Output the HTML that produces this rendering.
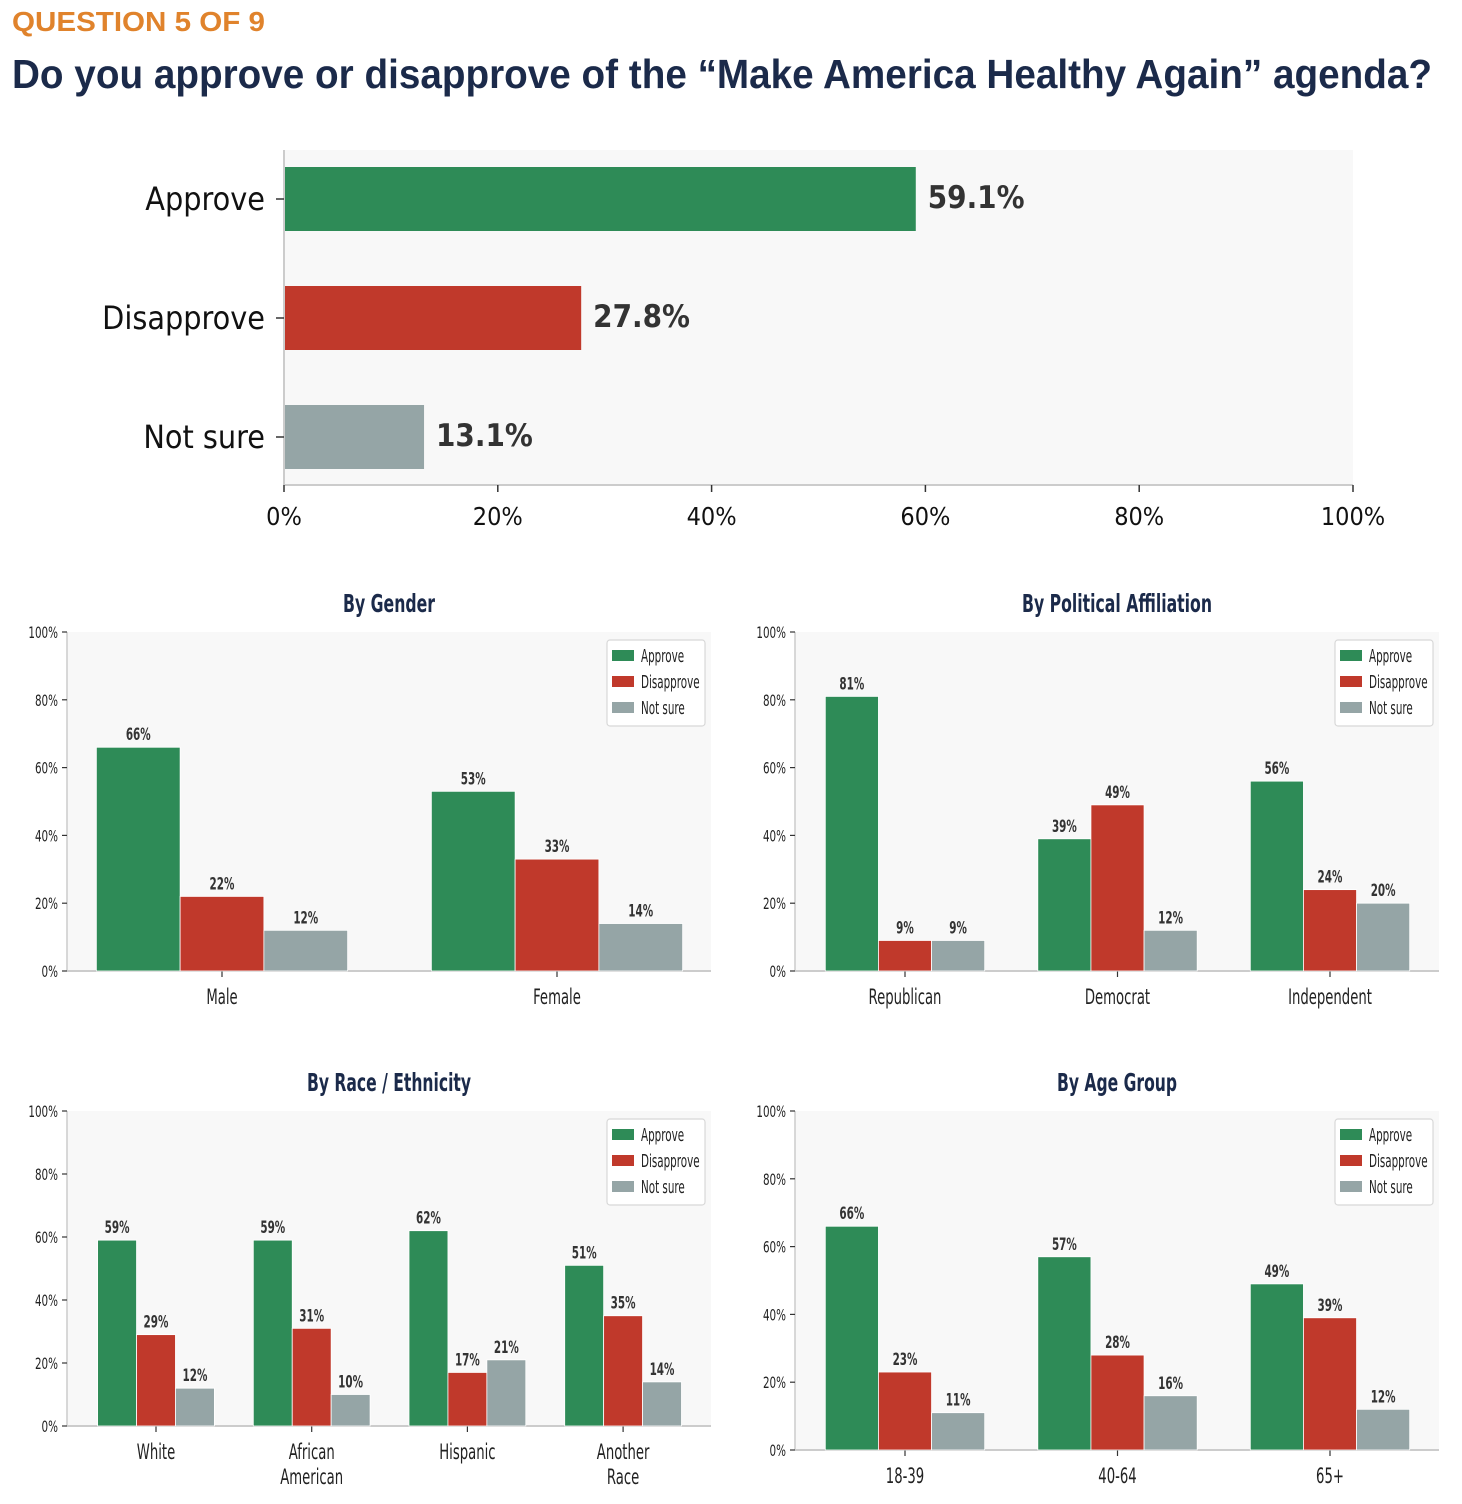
<!DOCTYPE html>
<html><head><meta charset="utf-8">
<style>
html,body{margin:0;padding:0;background:#fff;}
svg{display:block;}
.t{font-family:"DejaVu Sans Condensed","DejaVu Sans","Liberation Sans",sans-serif;}
</style></head>
<body>
<svg id="root" width="1462" height="1504" viewBox="0 0 1462 1504" xmlns="http://www.w3.org/2000/svg">
<text x="12" y="31" font-family="Liberation Sans, sans-serif" font-weight="bold" font-size="28" fill="#e0832c" textLength="253" lengthAdjust="spacingAndGlyphs">QUESTION 5 OF 9</text>
<text x="12" y="88" font-family="Liberation Sans, sans-serif" font-weight="bold" font-size="41" fill="#1b2a4a" textLength="1420" lengthAdjust="spacingAndGlyphs">Do you approve or disapprove of the “Make America Healthy Again” agenda?</text>
<g id="g"></g>
</svg>
<script>
const overallCats = ["Approve","Disapprove","Not sure"];
const overallVals = [59.1, 27.8, 13.1];
const xTicks = [0,20,40,60,80,100];
const seriesNames = ["Approve","Disapprove","Not sure"];
const genderCats = [["Male"],["Female"]];
const genderApprove = [66, 53];
const genderDisapprove = [22, 33];
const genderNotSure = [12, 14];
const partyCats = [["Republican"],["Democrat"],["Independent"]];
const partyApprove = [81, 39, 56];
const partyDisapprove = [9, 49, 24];
const partyNotSure = [9, 12, 20];
const raceCats = [["White"],["African","American"],["Hispanic"],["Another","Race"]];
const raceApprove = [59, 59, 62, 51];
const raceDisapprove = [29, 31, 17, 35];
const raceNotSure = [12, 10, 21, 14];
const ageCats = [["18-39"],["40-64"],["65+"]];
const ageApprove = [66, 57, 49];
const ageDisapprove = [23, 28, 39];
const ageNotSure = [11, 16, 12];
const yTicks = [0,20,40,60,80,100];

const COLORS = ["#2e8b57","#c0392b","#95a5a6"];
const NS = "http://www.w3.org/2000/svg";
const G = document.getElementById("g");
function mk(tag, attrs, parent, txt){
  const e = document.createElementNS(NS, tag);
  for (const k in attrs) e.setAttribute(k, attrs[k]);
  if (txt !== undefined) e.textContent = txt;
  (parent || G).appendChild(e);
  return e;
}
function sx(x, s){ return `translate(${x},0) scale(${s},1) translate(${-x},0)`; }

(function(){
  const x0 = 284, x1 = 1353, yTop = 150, yBot = 485;
  const xs = v => x0 + (x1 - x0) * v / 100;
  const rowY = i => 199 + i * 119;
  const bg = mk("rect", {x:x0, y:yTop, width:x1-x0, height:yBot-yTop, fill:"#f8f8f8"});
  
  
  mk("line", {x1:x0, y1:yTop, x2:x0, y2:yBot, stroke:"#cccccc", "stroke-width":2});
  mk("line", {x1:x0, y1:yBot, x2:x1, y2:yBot, stroke:"#cccccc", "stroke-width":2});
  xTicks.forEach(t => {
    mk("line", {x1:xs(t), y1:yBot, x2:xs(t), y2:yBot+7, stroke:"#333", "stroke-width":1.5});
    const l = mk("text", {x:xs(t), y:525, "text-anchor":"middle", "font-size":25, fill:"#111", class:"t"}, G, t + "%");
    
    
  });
  overallCats.forEach((c, i) => {
    const y = rowY(i);
    mk("line", {x1:x0-8, y1:y, x2:x0, y2:y, stroke:"#333", "stroke-width":1.5});
    const l = mk("text", {x:265, y:y+11, "text-anchor":"end", "font-size":32, fill:"#111", class:"t"}, G, c);
    
    
    const b = mk("rect", {x:x0+1, y:y-32, width:xs(overallVals[i])-x0-1, height:64, fill:COLORS[i]});
    
    
    const v = mk("text", {x:xs(overallVals[i])+12, y:y+9, "font-size":31, "font-weight":"bold", fill:"#333", class:"t"}, G, overallVals[i].toFixed(1) + "%");
    
    
  });
})();

function panel(opt){
  const {name, title, titleW, cats, series, left, right, top, bottom, c0, step, labelY} = opt;
  const grp = mk("g", {});
  
  
  const ys = v => bottom - (bottom - top) * v / 100;
  const xc = i => c0 + step * i;
  const bw = step * 0.25;
  mk("rect", {x:left, y:top, width:right-left, height:bottom-top, fill:"#f8f8f8"}, grp);
  mk("line", {x1:left, y1:top, x2:left, y2:bottom, stroke:"#cccccc", "stroke-width":1.5}, grp);
  mk("line", {x1:left, y1:bottom, x2:right, y2:bottom, stroke:"#cccccc", "stroke-width":2}, grp);
  const tt = mk("text", {x:(left+right)/2, y:top-20, "text-anchor":"middle", "font-size":25, "font-weight":"bold", fill:"#1b2a4a", class:"t", textLength: titleW, lengthAdjust:"spacingAndGlyphs"}, grp, title);
  
  
  yTicks.forEach(t => {
    mk("line", {x1:left-5, y1:ys(t), x2:left, y2:ys(t), stroke:"#333", "stroke-width":1.2}, grp);
    const l = mk("text", {x:left-9, y:ys(t)+6, "text-anchor":"end", "font-size":16, fill:"#222", class:"t", transform:sx(left-9,0.72)}, grp, t + "%");
    
    
  });
  cats.forEach((lines, i) => {
    mk("line", {x1:xc(i), y1:bottom, x2:xc(i), y2:bottom+6, stroke:"#333", "stroke-width":1.2}, grp);
    lines.forEach((ln, k) => {
      const l = mk("text", {x:xc(i), y:labelY + k*25, "text-anchor":"middle", "font-size":21, fill:"#222", class:"t", transform:sx(xc(i),0.7)}, grp, ln);
      
      
    });
    series.forEach((vals, s) => {
      const bx = xc(i) + (s - 1.5) * bw;
      const v = vals[i];
      const b = mk("rect", {x:bx, y:ys(v), width:bw, height:bottom-ys(v), fill:COLORS[s], stroke:"#fff", "stroke-width":0.8}, grp);
      
      
      const cx = bx + bw/2;
      const lab = mk("text", {x:cx, y:ys(v)-7, "text-anchor":"middle", "font-size":17, "font-weight":"bold", fill:"#333", class:"t", transform:sx(cx,0.68)}, grp, v + "%");
      
      
    });
  });
  const lx = right - 104, ly = top + 8;
  const lg = mk("g", {}, grp);
  
  
  mk("rect", {x:lx, y:ly, width:98, height:86, rx:3, fill:"#fff", stroke:"#d8d8d8", "stroke-width":1.2}, lg);
  seriesNames.forEach((sn, s) => {
    mk("rect", {x:lx+5, y:ly+10+s*26, width:22, height:11, fill:COLORS[s]}, lg);
    const t = mk("text", {x:lx+34, y:ly+22+s*26, "font-size":18, fill:"#222", class:"t", transform:sx(lx+34,0.64)}, lg, sn);
    
    
  });
}

panel({name:"gender", title:"By Gender", titleW:92, cats:genderCats, series:[genderApprove,genderDisapprove,genderNotSure],
  left:67, right:711, top:632, bottom:971, c0:222, step:335, labelY:1004});
panel({name:"party", title:"By Political Affiliation", titleW:190, cats:partyCats, series:[partyApprove,partyDisapprove,partyNotSure],
  left:795, right:1439, top:632, bottom:971, c0:905, step:212.5, labelY:1004});
panel({name:"race", title:"By Race / Ethnicity", titleW:164, cats:raceCats, series:[raceApprove,raceDisapprove,raceNotSure],
  left:67, right:711, top:1111, bottom:1426, c0:156, step:155.7, labelY:1459});
panel({name:"age", title:"By Age Group", titleW:120, cats:ageCats, series:[ageApprove,ageDisapprove,ageNotSure],
  left:795, right:1439, top:1111, bottom:1450, c0:905, step:212.5, labelY:1483});
</script>
</body></html>
